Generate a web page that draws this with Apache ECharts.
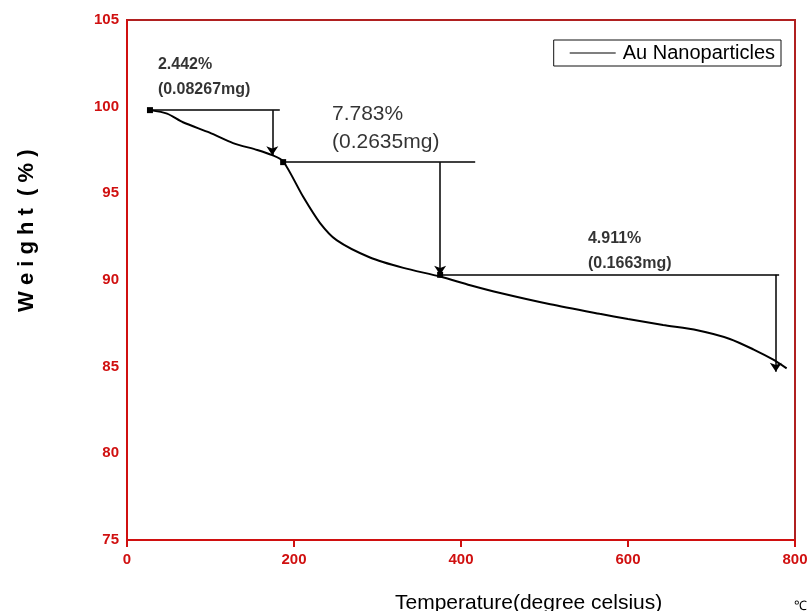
<!DOCTYPE html>
<html><head><meta charset="utf-8">
<script src="https://cdn.jsdelivr.net/npm/echarts@6/dist/echarts.min.js"></script>
<style>html,body{margin:0;padding:0;background:#fff}#c{width:812px;height:611px}</style>
</head><body><div id="c"></div>
<script>
// Temperature (°C) and weight (%)
const temps =   [27.5, 48, 67, 99, 127, 156, 174, 187, 211, 231, 251, 291, 331, 375, 411, 447, 507, 566, 600, 642, 683, 722, 750, 774, 790];
const weights = [99.8, 99.6, 99.1, 98.5, 97.9, 97.5, 97.2, 96.85, 94.8, 93.3, 92.3, 91.3, 90.7, 90.2, 89.7, 89.25, 88.6, 88.05, 87.75, 87.4, 87.1, 86.6, 86.0, 85.4, 84.9];
const xTicks = [0, 200, 400, 600, 800];
const yTicks = [75, 80, 85, 90, 95, 100, 105];
// annotation step lines
const stepH = [[27.5, 99.8, 183, 99.8], [187, 96.8, 417, 96.8], [375, 90.3, 781, 90.3]];
const stepV = [[174, 99.8, 97.2], [375, 96.8, 90.3], [777, 90.3, 84.7]];
const labelText = ['2.442%\n(0.08267mg)', '7.783%\n(0.2635mg)', '4.911%\n(0.1663mg)'];
const labelPos = [[37, 103.15], [245.5, 100.4], [552, 93.1]];

const red = '#d01010';
const chart = echarts.init(document.getElementById('c'));
const lines = [];
stepH.forEach(s => lines.push([{coord: [s[0], s[1]], symbol: 'rect', symbolSize: 6}, {coord: [s[2], s[3]], symbol: 'none'}]));
stepV.forEach(s => lines.push([{coord: [s[0], s[1]], symbol: 'none'}, {coord: [s[0], s[2]], symbol: 'arrow', symbolSize: 9}]));

chart.setOption({
  animation: false,
  grid: {left: 127, right: 17, top: 20, bottom: 71, show: true, borderColor: '#b02020', borderWidth: 2},
  xAxis: {
    type: 'value', min: 0, max: 800, interval: 200,
    axisLine: {show: true, lineStyle: {color: red, width: 2}},
    axisTick: {show: true, length: 7, lineStyle: {color: red, width: 2}},
    axisLabel: {color: red, fontWeight: 'bold', fontSize: 15, fontFamily: 'Liberation Sans', margin: 12},
    splitLine: {show: false}
  },
  yAxis: {
    type: 'value', min: 75, max: 105, interval: 5,
    axisLine: {show: true, lineStyle: {color: red, width: 2}},
    axisTick: {show: false},
    axisLabel: {color: red, fontWeight: 'bold', fontSize: 15, fontFamily: 'Liberation Sans', margin: 8},
    splitLine: {show: false}
  },
  legend: {
    right: 31, top: 40, orient: 'horizontal',
    data: ['Au Nanoparticles'],
    icon: 'rect',
    itemWidth: 46, itemHeight: 1.2, itemGap: 0,
    borderColor: '#111', borderWidth: 1, borderRadius: 0,
    padding: [3, 6, 3, 16],
    textStyle: {fontSize: 20, color: '#000', fontFamily: 'Liberation Sans', padding: [0, 0, 0, 2]}
  },
  series: [
    {
      name: 'Au Nanoparticles', type: 'line', smooth: 0.25,
      data: temps.map((t, i) => [t, weights[i]]),
      showSymbol: false, symbol: 'none',
      lineStyle: {color: '#000', width: 2},
      itemStyle: {color: '#000'},
      markLine: {
        silent: true, animation: false,
        lineStyle: {color: '#000', width: 1.5, type: 'solid'},
        label: {show: false},
        data: lines
      }
    },
    {
      type: 'scatter', symbolSize: 0, silent: true,
      data: labelPos.map((p, i) => ({value: p, label: {
        show: true, formatter: labelText[i], position: [0, 0], align: 'left', verticalAlign: 'top',
        fontSize: i === 1 ? 21 : 16, fontWeight: i === 1 ? 'normal' : 'bold',
        lineHeight: i === 1 ? 28 : 25, color: '#000', fontFamily: 'Liberation Sans'
      }}))
    }
  ],
  graphic: [
    {type: 'text', x: 16, y: 312, rotation: Math.PI / 2, style: {text: 'W e i g h t  ( % )', fontSize: 22, fontWeight: 'bold', fill: '#000', fontFamily: 'Liberation Sans'}},
    {type: 'text', left: 395, top: 593, style: {text: 'Temperature(degree celsius)', fontSize: 21, fill: '#000', fontFamily: 'Liberation Sans'}},
    {type: 'text', left: 794, top: 600, style: {text: '℃', fontSize: 13, fill: '#000', fontFamily: 'Liberation Sans'}}
  ]
});
</script></body></html>
